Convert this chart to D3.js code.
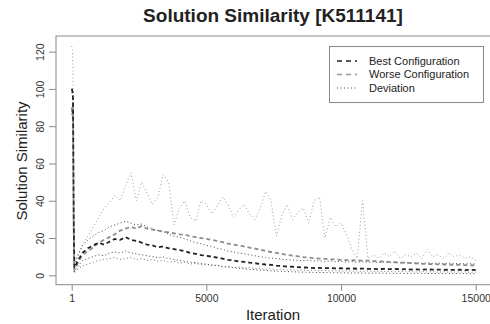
<!DOCTYPE html>
<html>
<head>
<meta charset="utf-8">
<script src="https://cdn.jsdelivr.net/npm/d3@7"></script>
<style>
  body { margin: 0; background: #fff; }
  text { font-family: "Liberation Sans", Arial, sans-serif; }
</style>
</head>
<body>
<div id="chart"></div>
<script>
// sampled iterations (shared by all series)
const iterations = [1, 25, 50, 75, 100, 150, 200,
  400, 600, 800, 1000, 1200, 1400, 1600, 1800, 2000, 2200,
  2400, 2600, 2800, 3000, 3200, 3400, 3600, 3800, 4000, 4200,
  4400, 4600, 4800, 5000, 5200, 5400, 5600, 5800, 6000, 6200,
  6400, 6600, 6800, 7000, 7200, 7400, 7600, 7800, 8000, 8200,
  8400, 8600, 8800, 9000, 9200, 9400, 9600, 9800, 10000, 10200,
  10400, 10600, 10800, 11000, 11200, 11400, 11600, 11800, 12000, 12200,
  12400, 12600, 12800, 13000, 13200, 13400, 13600, 13800, 14000, 14200,
  14400, 14600, 14800, 15000];

const bestConfig = [100, 99, 95, 30, 4, 5, 7,
  12, 14.5, 16, 17.5, 16.5, 18, 19.5, 19, 20.5, 19,
  18.5, 17.5, 16.5, 16, 15, 15.5, 14.5, 14, 13.5, 13,
  12, 11.5, 10.8, 10.5, 10, 9.5, 9, 8.3, 8, 7.5,
  7.2, 6.8, 6.5, 6.1, 5.8, 5.6, 5.2, 5, 4.7, 4.6,
  4.4, 4.2, 4.1, 3.9, 4, 3.8, 3.9, 3.7, 3.8, 3.6,
  3.7, 3.5, 3.6, 3.4, 3.5, 3.3, 3.5, 3.3, 3.4, 3.2,
  3.3, 3.1, 3.2, 3.0, 3.2, 3.0, 3.1, 2.9, 3.0, 2.9,
  3.0, 2.8, 2.9, 2.8];

const worseConfig = [90, 86, 92, 25, 3, 4, 6,
  11, 13, 15, 17.5, 19, 20.5, 22, 24, 25, 26,
  25, 26.5, 25, 24.5, 24, 23.5, 23, 22.5, 22, 21.8,
  21, 20.5, 20, 19.5, 19, 18.5, 17.8, 17, 16.5, 16,
  15.5, 14.8, 14.3, 13.8, 13, 12.5, 12, 11.5, 11, 10.6,
  10.2, 9.8, 9.5, 9.2, 9, 8.8, 8.6, 8.5, 8.3, 8.2,
  8, 8.1, 7.8, 7.9, 7.6, 7.5, 7.4, 7.2, 7, 6.8,
  6.7, 6.5, 6.4, 6.2, 6.1, 6, 5.9, 5.8, 5.8, 5.6,
  5.6, 5.5, 5.4, 5.3];

// deviation bands
const worseUpper = [123, 121, 110, 40, 5, 6, 9,
  16, 21, 26, 31, 36, 39, 43, 40, 48, 55,
  40, 50, 44, 38, 42, 54, 50, 27, 36, 40,
  31, 29, 40, 38, 33, 37, 42, 38, 31, 35,
  38, 33, 30, 36, 45, 40, 21, 32, 38, 30,
  34, 36, 28, 40, 42, 20, 31, 26, 28, 22,
  14, 9, 40, 9, 11, 9, 12, 10, 13, 9,
  11, 10, 12, 9, 14, 10, 11, 9, 12, 10,
  11, 9, 10, 8];

const bestUpper = [100, 100, 98, 35, 6, 7, 10,
  16, 19, 21, 23, 24, 26, 27, 28, 29, 28,
  27, 27.5, 26, 25, 24, 23.5, 22, 21, 20.5, 19.5,
  18.5, 17.5, 17, 16, 15.5, 14.5, 14, 13, 12.5, 12,
  11.5, 11, 10.5, 10, 9.5, 9.2, 9, 8.6, 8.4, 8.2,
  8, 7.8, 8.2, 7.6, 7.9, 7.4, 7.8, 7.2, 7.6, 7.1,
  7.4, 7, 7.3, 6.9, 7.2, 6.8, 7.1, 6.7, 7, 6.6,
  6.9, 6.5, 6.8, 6.4, 6.7, 6.3, 6.6, 6.2, 6.5, 6.2,
  6.4, 6.1, 6.3, 6];

const bestLower = [100, 98, 92, 20, 2, 3, 4,
  8, 9, 10, 11, 10.5, 12, 12.5, 12, 13, 12,
  11.5, 11, 10.5, 10, 9.5, 9.8, 9, 8.5, 8, 7.5,
  7, 6.8, 6.2, 6, 5.6, 5.2, 4.8, 4.4, 4.1, 3.8,
  3.5, 3.2, 3, 2.8, 2.6, 2.4, 2.2, 2.1, 2, 1.9,
  1.8, 1.7, 1.6, 1.6, 1.5, 1.5, 1.4, 1.4, 1.3, 1.3,
  1.2, 1.3, 1.2, 1.2, 1.1, 1.2, 1.1, 1.1, 1, 1.1,
  1, 1, 1.1, 1, 1, 0.9, 1, 0.9, 1, 0.9,
  0.9, 1, 0.9, 0.9];

const worseLower = [90, 84, 88, 15, 1, 2, 3,
  5, 6, 7, 8, 8.5, 9, 9.5, 8.5, 9, 9.5,
  8.5, 9, 8, 8.5, 7.5, 8, 7, 7.5, 6.5, 7,
  6, 6.5, 5.5, 6, 5, 5.5, 4.5, 5, 4, 4.5,
  3.8, 4.2, 3.5, 3.8, 3.2, 3.5, 3, 3.3, 2.8, 3,
  2.7, 2.9, 2.5, 2.8, 2.4, 2.6, 2.3, 2.5, 2.2, 2.4,
  2.2, 2.3, 2.1, 2.3, 2, 2.2, 2, 2.1, 1.9, 2.1,
  1.9, 2, 1.8, 2, 1.8, 1.9, 1.7, 1.9, 1.7, 1.8,
  1.7, 1.8, 1.6, 1.7];

const xTicks = [1, 5000, 10000, 15000];
const yTicks = [0, 20, 40, 60, 80, 100, 120];
const legendLabels = ["Best Configuration", "Worse Configuration", "Deviation"];

const W = 490, H = 324;
const plot = { left: 56, right: 492, top: 36, bottom: 284.7 };

const svg = d3.select("#chart").append("svg")
  .attr("width", W)
  .attr("height", H)
  .style("background", "#fff");

const x = d3.scaleLinear().domain([-582, 15605]).range([plot.left, plot.right]);
const y = d3.scaleLinear().domain([-5.04, 128.4]).range([plot.bottom, plot.top]);

svg.append("clipPath").attr("id", "clip")
  .append("rect")
  .attr("x", plot.left).attr("y", plot.top)
  .attr("width", plot.right - plot.left).attr("height", plot.bottom - plot.top);

// series styles
const series = [
  { values: worseUpper, color: "#9a9a9a", dash: "1,2.5", width: 1 },
  { values: worseLower, color: "#777", dash: "1,2.5", width: 1 },
  { values: bestUpper, color: "#444", dash: "1,2.5", width: 1 },
  { values: bestLower, color: "#444", dash: "1,2.5", width: 1 },
  { values: worseConfig, color: "#8c8c8c", dash: "4,3", width: 1.8 },
  { values: bestConfig, color: "#222", dash: "4,3", width: 1.8 }
];

const line = d3.line()
  .x((d, i) => x(iterations[i]))
  .y(d => y(d));

svg.append("g").attr("clip-path", "url(#clip)")
  .selectAll("path")
  .data(series)
  .enter().append("path")
  .attr("fill", "none")
  .attr("stroke", d => d.color)
  .attr("stroke-width", d => d.width)
  .attr("stroke-dasharray", d => d.dash)
  .attr("d", d => line(d.values));

// plot box
svg.append("rect")
  .attr("x", plot.left).attr("y", plot.top)
  .attr("width", plot.right - plot.left).attr("height", plot.bottom - plot.top)
  .attr("fill", "none")
  .attr("stroke", "#8a8a8a")
  .attr("stroke-width", 1);

// X axis
const xAxis = svg.append("g")
  .attr("transform", "translate(0," + plot.bottom + ")")
  .call(d3.axisBottom(x).tickValues(xTicks).tickSize(6).tickPadding(4).tickFormat(d3.format("d")));
xAxis.select(".domain").remove();
xAxis.selectAll("line").attr("stroke", "#8a8a8a");
xAxis.selectAll("text")
  .attr("fill", "#333")
  .style("font-size", "10.5px")
  .style("font-family", "Liberation Sans, Arial, sans-serif");

// Y axis (labels rotated like base R)
const yAxis = svg.append("g")
  .attr("transform", "translate(" + plot.left + ",0)")
  .call(d3.axisLeft(y).tickValues(yTicks).tickSize(7).tickFormat(d3.format("d")));
yAxis.select(".domain").remove();
yAxis.selectAll("line").attr("stroke", "#8a8a8a");
yAxis.selectAll("text")
  .attr("fill", "#333")
  .attr("x", null).attr("dy", null)
  .attr("transform", "translate(-12.5,0) rotate(-90)")
  .attr("text-anchor", "middle")
  .style("font-size", "10.5px")
  .style("font-family", "Liberation Sans, Arial, sans-serif");

// title and axis titles
svg.append("text")
  .attr("x", 273).attr("y", 22)
  .attr("text-anchor", "middle")
  .attr("fill", "#222")
  .style("font-size", "19px")
  .style("font-weight", "bold")
  .text("Solution Similarity [K511141]");

svg.append("text")
  .attr("x", 273).attr("y", 320)
  .attr("text-anchor", "middle")
  .attr("fill", "#222")
  .style("font-size", "15px")
  .text("Iteration");

svg.append("text")
  .attr("transform", "translate(27,161) rotate(-90)")
  .attr("text-anchor", "middle")
  .attr("fill", "#222")
  .style("font-size", "15px")
  .text("Solution Similarity");

// legend
const legendStyles = [
  { color: "#222", dash: "5,4", width: 1.6 },
  { color: "#999", dash: "5,4", width: 1.6 },
  { color: "#444", dash: "1,2.5", width: 1 }
];

const legend = svg.append("g");
legend.append("rect")
  .attr("x", 329.5).attr("y", 46.5)
  .attr("width", 154).attr("height", 56)
  .attr("fill", "#fff")
  .attr("stroke", "#8a8a8a");

const rows = legend.selectAll(".legend")
  .data(legendLabels)
  .enter().append("g")
  .attr("class", "legend")
  .attr("transform", (d, i) => "translate(0," + (61 + i * 13.5) + ")");

rows.append("line")
  .attr("x1", 337).attr("x2", 357)
  .attr("stroke", (d, i) => legendStyles[i].color)
  .attr("stroke-width", (d, i) => legendStyles[i].width)
  .attr("stroke-dasharray", (d, i) => legendStyles[i].dash);

rows.append("text")
  .attr("x", 369)
  .attr("dy", "0.35em")
  .attr("fill", "#222")
  .style("font-size", "11px")
  .text(d => d);
</script>
</body>
</html>
